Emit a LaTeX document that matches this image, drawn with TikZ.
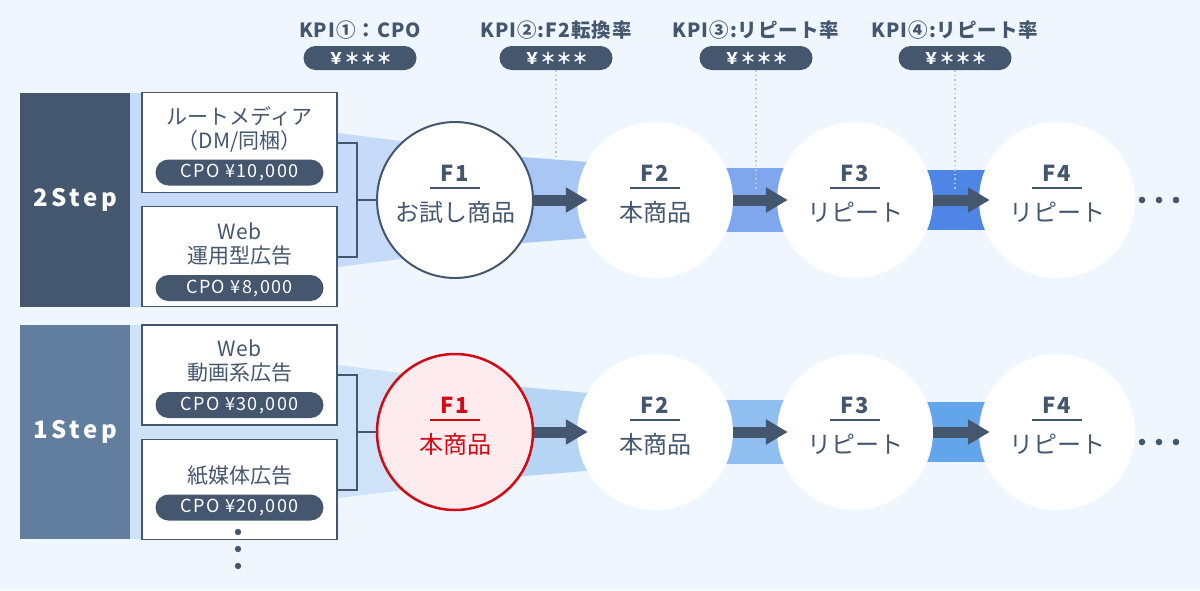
\documentclass[tikz,border=0pt]{standalone}
\usepackage{fontspec}
\setmainfont{Noto Sans CJK JP}
\usetikzlibrary{positioning,calc,arrows.meta}

\definecolor{bgblue}{HTML}{F0F6FD}
\definecolor{slate}{HTML}{44576F}
\definecolor{slatepale}{HTML}{627E9F}
\definecolor{dotgray}{HTML}{BCC6D3}
\definecolor{trialred}{HTML}{D20A16}
\definecolor{trialpink}{HTML}{FDEBEE}
\definecolor{twoA}{HTML}{C6DBF9}
\definecolor{twoB}{HTML}{A8C7F5}
\definecolor{twoC}{HTML}{7EA7EE}
\definecolor{twoD}{HTML}{4F86E6}
\definecolor{oneA}{HTML}{CFE3F8}
\definecolor{oneB}{HTML}{B6D5F4}
\definecolor{oneC}{HTML}{8EBFF0}
\definecolor{oneD}{HTML}{63A5EA}

\tikzset{
  stepbox/.style={fill=slate, minimum width=110pt, minimum height=214pt, inner sep=0pt,
    text=white, font=\fontsize{24}{28}\selectfont\bfseries\addfontfeatures{LetterSpace=15}},
  srcbox/.style={draw=slate, line width=1.6pt, fill=white, minimum width=195pt,
    minimum height=100pt, inner sep=0pt},
  srctext/.style={text=slate, align=center, inner sep=0pt, font=\fontsize{21}{24}\selectfont},
  cpotag/.style={fill=slate, rounded corners=13pt, minimum width=168pt, minimum height=26pt,
    inner sep=0pt, text=white, font=\fontsize{18}{20}\selectfont\addfontfeatures{LetterSpace=8}},
  kpitext/.style={text=slate, font=\fontsize{19.5}{22}\selectfont\bfseries\addfontfeatures{LetterSpace=5}},
  kpitag/.style={fill=slate, rounded corners=12pt, minimum width=113pt, minimum height=24pt,
    inner sep=0pt, text=white, font=\fontsize{16}{18}\selectfont\bfseries},
  kpidots/.style={draw=dotgray, line width=1.5pt, dash pattern=on 1.5pt off 3pt},
  fcircle/.style={circle, fill=white, minimum size=156pt, inner sep=0pt},
  ftitle/.style={text=slate, font=\fontsize{22}{24}\selectfont\bfseries\addfontfeatures{LetterSpace=8}},
  fname/.style={text=slate, font=\fontsize{24}{26}\selectfont},
  fline/.style={draw=slate, line width=2pt},
  flow/.style={draw=slate, line width=11pt, -{Triangle[length=22pt,width=24pt]}},
  bracket/.style={draw=slate, line width=2pt}
}

\begin{document}
\begin{tikzpicture}[x=1pt, y=-1pt]
  \fill[bgblue] (0,0) rectangle (1200,590);
  \useasboundingbox (0,0) rectangle (1200,590);

  % bands, 2Step row
  \fill[twoA] (130,93) -- (338,93) -- (338,133) -- (455,148) -- (455,252) -- (338,267) -- (338,307) -- (130,307) -- cycle;
  \fill[twoB] (455,152) -- (655,167) -- (655,233) -- (455,248) -- cycle;
  \fill[twoC] (655,168) rectangle (855,232);
  \fill[twoD] (855,170) rectangle (1057,230);
  % bands, 1Step row
  \fill[oneA] (130,325) -- (338,325) -- (338,365) -- (455,380) -- (455,484) -- (338,498) -- (338,539) -- (130,539) -- cycle;
  \fill[oneB] (455,381) -- (655,399) -- (655,465) -- (455,482) -- cycle;
  \fill[oneC] (655,400) rectangle (855,464);
  \fill[oneD] (855,402) rectangle (1057,462);

  \node[stepbox] (twostep) at (75,200) {2Step};
  \node[stepbox, fill=slatepale] (onestep) at (75,432) {1Step};

  % media boxes
  \node[srcbox] (root) at (239.5,142.5) {};
  \node[srctext] (roottxt) at (239.5,129) {ルートメディア\\（DM/同梱）};
  \node[cpotag] (rootcpo) at (239.5,172.5) {CPO ¥10,000};

  \node[srcbox] (webad) at (239.5,256.5) {};
  \node[srctext] (webadtxt) at (239.5,244) {Web\\運用型広告};
  \node[cpotag] (webadcpo) at (239.5,288) {CPO ¥8,000};

  \node[srcbox] (movie) at (239.5,375) {};
  \node[srctext] (movietxt) at (239.5,361.5) {Web\\動画系広告};
  \node[cpotag] (moviecpo) at (239.5,405) {CPO ¥30,000};

  \node[srcbox] (paper) at (239.5,489.5) {};
  \node[srctext] (papertxt) at (239.5,476) {紙媒体広告};
  \node[cpotag] (papercpo) at (239.5,507.5) {CPO ¥20,000};

  \fill[slate] (238,532) circle (3.2);
  \fill[slate] (238,549) circle (3.2);
  \fill[slate] (238,566) circle (3.2);

  % circles
  \node[fcircle, draw=slate, line width=2pt] (two1) at (455,200) {};
  \node[fcircle] (two2) at (655,200) {};
  \node[fcircle] (two3) at (855,200) {};
  \node[fcircle] (two4) at (1057,200) {};
  \node[fcircle, fill=trialpink, draw=trialred, line width=2.5pt] (one1) at (455,432) {};
  \node[fcircle] (one2) at (655,432) {};
  \node[fcircle] (one3) at (855,432) {};
  \node[fcircle] (one4) at (1057,432) {};

  \foreach \c/\f/\t in {two1/F1/お試し商品, two2/F2/本商品, two3/F3/リピート, two4/F4/リピート,
                        one2/F2/本商品, one3/F3/リピート, one4/F4/リピート} {
    \node[ftitle] (\c-f) at ($(\c)+(0,-27)$) {\f};
    \draw[fline] ($(\c)+(-25,-12)$) -- ($(\c)+(25,-12)$);
    \node[fname] (\c-t) at ($(\c)+(0,12)$) {\t};
  }
  \node[ftitle, text=trialred] (one1-f) at ($(one1)+(0,-27)$) {F1};
  \draw[fline, draw=trialred] ($(one1)+(-25,-12)$) -- ($(one1)+(25,-12)$);
  \node[fname, text=trialred] (one1-t) at ($(one1)+(0,12)$) {本商品};

  % brackets
  \coordinate (twojoin) at (357,200);
  \coordinate (onejoin) at (357,432);
  \draw[bracket] (root.east) -| (twojoin) |- (webad.east);
  \draw[bracket] (twojoin) -- (two1.west);
  \draw[bracket] (movie.east) -| (onejoin) |- (paper.east);
  \draw[bracket] (onejoin) -- (one1.west);

  % KPI
  \node[kpitext] (kpi1) at (360,30) {KPI①：CPO};
  \node[kpitag] (kpi1tag) at (360,58) {￥＊＊＊};
  \node[kpitext] (kpi2) at (556,30) {KPI②:F2転換率};
  \node[kpitag] (kpi2tag) at (556,58) {￥＊＊＊};
  \node[kpitext] (kpi3) at (756,30) {KPI③:リピート率};
  \node[kpitag] (kpi3tag) at (756,58) {￥＊＊＊};
  \node[kpitext] (kpi4) at (955,30) {KPI④:リピート率};
  \node[kpitag] (kpi4tag) at (955,58) {￥＊＊＊};

  \coordinate (kpi2end) at (556,190);
  \coordinate (kpi3end) at (756,190);
  \coordinate (kpi4end) at (955,190);
  \draw[kpidots] (kpi2tag.south) -- (kpi2end);
  \draw[kpidots] (kpi3tag.south) -- (kpi3end);
  \draw[kpidots] (kpi4tag.south) -- (kpi4end);

  % flow arrows
  \draw[flow] (two1.east) -- ([xshift=11pt]two2.west);
  \draw[flow] (two2.east) -- ([xshift=11pt]two3.west);
  \draw[flow] (two3.east) -- ([xshift=11pt]two4.west);
  \draw[flow] (one1.east) -- ([xshift=11pt]one2.west);
  \draw[flow] (one2.east) -- ([xshift=11pt]one3.west);
  \draw[flow] (one3.east) -- ([xshift=11pt]one4.west);

  \fill[slate] (1142,200) circle (3.3);
  \fill[slate] (1159,200) circle (3.3);
  \fill[slate] (1176,200) circle (3.3);
  \fill[slate] (1142,442) circle (3.3);
  \fill[slate] (1159,442) circle (3.3);
  \fill[slate] (1176,442) circle (3.3);
\end{tikzpicture}
\end{document}
